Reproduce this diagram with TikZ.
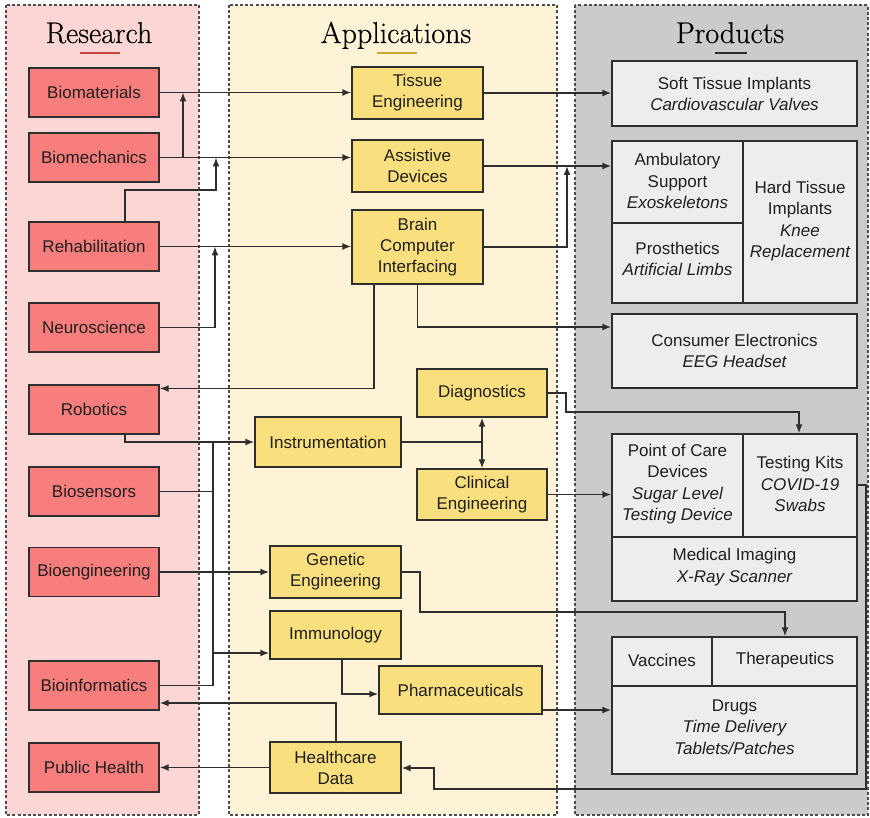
\documentclass[tikz,border=0pt]{standalone}
\usepackage{fontspec}
\setsansfont{Liberation Sans}
\newfontfamily\ttlfont{Latin Modern Roman}[FakeBold=0.4]
\usetikzlibrary{arrows.meta}

\definecolor{respanel}{HTML}{FCD5D5}
\definecolor{appanel}{HTML}{FEF3D6}
\definecolor{propanel}{HTML}{CBCBCB}
\definecolor{resbox}{HTML}{F87E7E}
\definecolor{appbox}{HTML}{F9DF7E}
\definecolor{probox}{HTML}{EDEDED}
\definecolor{edge}{HTML}{2E2E2E}
\definecolor{redline}{HTML}{C94545}
\definecolor{goldline}{HTML}{C9A830}

\tikzset{
  panel/.style={draw=edge!85, line width=1.3pt, dash pattern=on 3pt off 2.2pt},
  boxbase/.style={draw=edge, line width=1.4pt, align=center, inner sep=1pt,
    font=\sffamily\fontsize{17}{21}\selectfont, text=black!88},
  resnode/.style={boxbase, fill=resbox, minimum width=130pt, minimum height=49pt},
  appnode/.style={boxbase, fill=appbox},
  pronode/.style={boxbase, fill=probox, minimum width=245pt},
  protext/.style={align=center, inner sep=0pt, font=\sffamily\fontsize{17}{21.5}\selectfont, text=black!88},
  ttl/.style={anchor=base, font=\ttlfont\fontsize{30}{33}\selectfont, text=black},
  wire/.style={draw=edge, line width=1.5pt},
  arr/.style={wire, -{Latex[length=9pt,width=7pt]}},
}

\begin{document}
\begin{tikzpicture}[x=1pt,y=-1pt]
\useasboundingbox (0,0) rectangle (870,818);
\fill[white] (0,0) rectangle (870,818);

% panels
\filldraw[panel, fill=respanel] (6,5) rectangle (199,815);
\filldraw[panel, fill=appanel] (229,5) rectangle (557,815);
\filldraw[panel, fill=propanel] (575,5) rectangle (868,815);

% panel titles
\node[ttl] (tres) at (99,43) {Research};
\node[ttl] (tapp) at (396,43) {Applications};
\node[ttl] (tpro) at (730,43) {Products};
\draw[redline, line width=1.2pt] (80,53) -- (120,53);
\draw[goldline, line width=1.2pt] (377,53) -- (417,53);
\draw[edge, line width=1.2pt] (715,53) -- (747,53);

% research
\node[resnode] (bmat)  at (94,92.5)  {Biomaterials};
\node[resnode] (bmech) at (94,157.5) {Biomechanics};
\node[resnode] (rehab) at (94,246.5) {Rehabilitation};
\node[resnode] (neuro) at (94,327.5) {Neuroscience};
\node[resnode] (robo)  at (94,409.5) {Robotics};
\node[resnode] (bsens) at (94,491.5) {Biosensors};
\node[resnode] (beng)  at (94,572)   {Bioengineering};
\node[resnode] (binf)  at (94,685.5) {Bioinformatics};
\node[resnode] (ph)    at (94,767.5) {Public Health};

% applications
\node[appnode, minimum width=131pt, minimum height=52pt] (tissue) at (417.5,93) {Tissue\\Engineering};
\node[appnode, minimum width=131pt, minimum height=52pt] (assist) at (417.5,166) {Assistive\\Devices};
\node[appnode, minimum width=131pt, minimum height=74pt] (bci) at (417.5,247) {Brain\\Computer\\Interfacing};
\node[appnode, minimum width=130pt, minimum height=48pt] (diag) at (482,393) {Diagnostics};
\node[appnode, minimum width=146pt, minimum height=50pt] (instr) at (328,442) {Instrumentation};
\node[appnode, minimum width=130pt, minimum height=51pt] (clin) at (482,494.5) {Clinical\\Engineering};
\node[appnode, minimum width=131pt, minimum height=52pt] (gen) at (335.5,572) {Genetic\\Engineering};
\node[appnode, minimum width=131pt, minimum height=48pt] (immu) at (335.5,635) {Immunology};
\node[appnode, minimum width=163pt, minimum height=48pt] (pharm) at (460.5,690) {Pharmaceuticals};
\node[appnode, minimum width=131pt, minimum height=51pt] (hcd) at (335.5,767.5) {Healthcare\\Data};

% products
\node[pronode, minimum height=65pt] (soft) at (734.5,93.5) {Soft Tissue Implants\\\itshape Cardiovascular Valves};
\node[pronode, minimum height=162pt] (g2) at (734.5,222) {};
\draw[wire] (743,141) -- (743,303);
\draw[wire] (612,223) -- (743,223);
\node[protext] (amb) at (677.5,181) {Ambulatory\\Support\\\itshape Exoskeletons};
\node[protext] (pros) at (677.5,259) {Prosthetics\\\itshape Artificial Limbs};
\node[protext] (hard) at (800,221) {Hard Tissue\\Implants\\\itshape Knee\\\itshape Replacement};

\node[pronode, minimum height=74pt] (cons) at (734.5,351) {Consumer Electronics\\\itshape EEG Headset};

\node[pronode, minimum height=167pt] (g4) at (734.5,517.5) {};
\draw[wire] (743,434) -- (743,537);
\draw[wire] (612,537) -- (857,537);
\node[protext] (poc) at (677.5,484) {Point of Care\\Devices\\\itshape Sugar Level\\\itshape Testing Device};
\node[protext] (kits) at (800,484) {Testing Kits\\\itshape COVID-19\\\itshape Swabs};
\node[protext] (medi) at (734.5,567) {Medical Imaging\\\itshape X-Ray Scanner};

\node[pronode, minimum height=137pt] (g5) at (734.5,705.5) {};
\draw[wire, line width=2.2pt] (712,637) -- (712,686);
\draw[wire] (612,686) -- (857,686);
\node[protext] (vacc) at (662,660) {Vaccines};
\node[protext] (ther) at (785,660) {Therapeutics};
\node[protext] (drug) at (734.5,727) {Drugs\\\itshape Time Delivery\\\itshape Tablets/Patches};

% junction points of the routed connectors
\coordinate (j1) at (183,157.5);
\coordinate (j2) at (216,190);
\coordinate (j3) at (215,327.5);
\coordinate (j4) at (567,247);
\coordinate (j5) at (417.5,327);
\coordinate (j6) at (374,388.5);
\coordinate (j7) at (125,442);
\coordinate (bus) at (213,685.5);
\coordinate (j8) at (213,653);
\coordinate (j9) at (482,442);
\coordinate (j10) at (566,412);
\coordinate (j11) at (799,412);
\coordinate (j12) at (420,612);
\coordinate (j13) at (785,612);
\coordinate (j14) at (342,694);
\coordinate (j15) at (560,710);
\coordinate (j16) at (336,703);
\coordinate (j17) at (866,485);
\coordinate (j18) at (866,789);
\coordinate (j19) at (434,789);
\coordinate (j20) at (434,768);

% research -> applications
\draw[arr] (bmat.east) -- (bmat.east -| tissue.west);
\draw[arr] (bmech.east) -- (bmech.east -| assist.west);
\draw[arr] (j1) -- (j1 |- bmat.east);
\draw[arr] ([xshift=31pt]rehab.north) |- (j2) -- (j2 |- bmech.east);
\draw[arr] (rehab.east) -- (rehab.east -| bci.west);
\draw[arr] (neuro.east) -- (j3) -- (j3 |- rehab.east);
\draw[arr] (robo.south -| j7) -- (j7) -- (j7 -| instr.west);
\draw[wire] (bsens.east) -- (bsens.east -| bus);
\draw[wire] (binf.east) -- (bus) -- (bus |- instr.west);
\draw[arr] (j8) -- (j8 -| immu.west);
\draw[arr] (beng.east) -- (beng.east -| gen.west);

% applications -> products
\draw[arr] (tissue.east) -- (tissue.east -| soft.west);
\draw[arr] (assist.east) -- (assist.east -| g2.west);
\draw[arr] (bci.east) -- (j4) -- (j4 |- assist.east);
\draw[arr] (bci.south) -- (j5) -- (j5 -| cons.west);
\draw[arr] (bci.south -| j6) -- (j6) -- (j6 -| robo.east);
\draw[wire] (instr.east) -- (j9);
\draw[arr] (j9) -- (diag.south);
\draw[arr] (j9) -- (clin.north);
\draw[arr] (diag.east) -| (j10) -- (j11) -- (j11 |- g4.north);
\draw[arr] (clin.east) -- (clin.east -| g4.west);
\draw[arr] (gen.east) -| (j12) -- (j13) -- (j13 |- g5.north);
\draw[arr] (immu.south -| j14) -- (j14) -- (j14 -| pharm.west);
\draw[arr] (pharm.east |- j15) -- (g5.west |- j15);

% data flowing back
\draw[arr] (hcd.north -| j16) -- (j16) -- (j16 -| binf.east);
\draw[arr] (hcd.west) -- (hcd.west -| ph.east);
\draw[arr] (g4.east |- j17) -- (j17) -- (j18) -- (j19) -- (j20) -- (j20 -| hcd.east);
\end{tikzpicture}
\end{document}
